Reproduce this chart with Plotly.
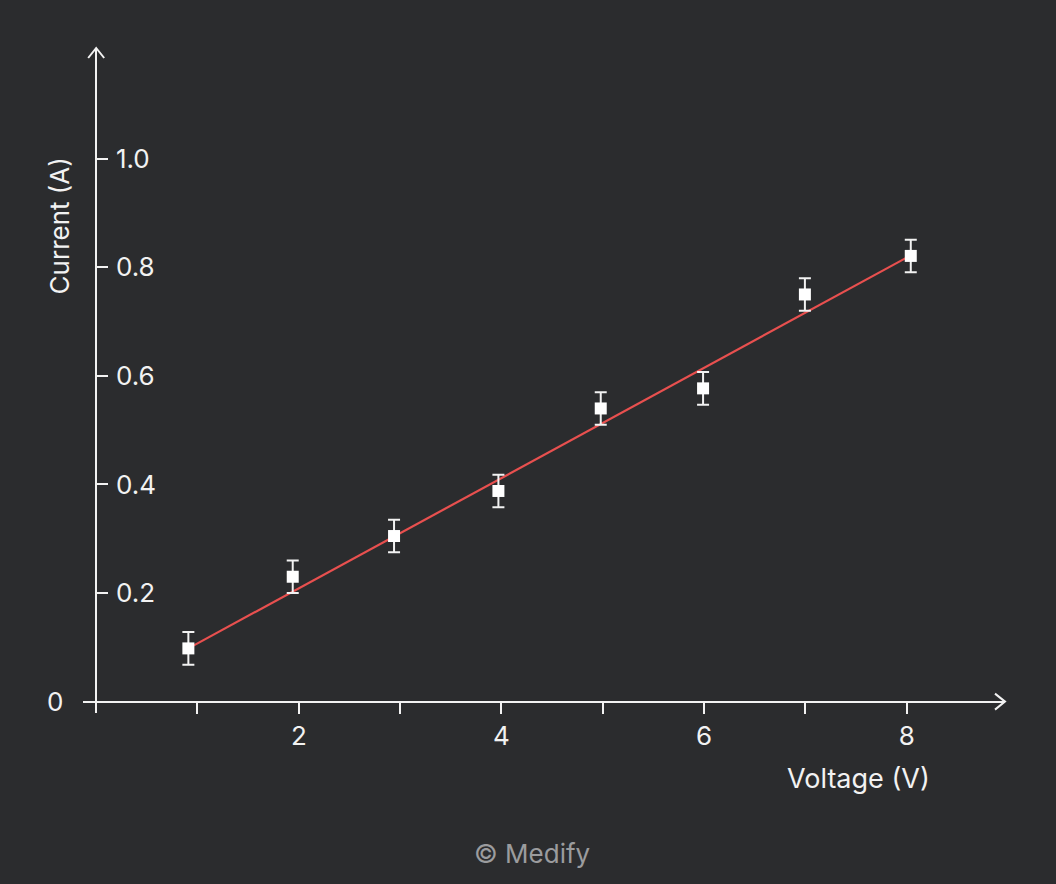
import plotly.graph_objects as go

# ---- data ----
voltage = [0.91, 1.94, 2.94, 3.97, 4.98, 5.99, 6.995, 8.04]
current = [0.098, 0.230, 0.305, 0.388, 0.540, 0.577, 0.750, 0.821]
current_err = [0.03, 0.03, 0.03, 0.03, 0.03, 0.03, 0.03, 0.03]

fit_x = [0.91, 8.04]
fit_y = [0.098, 0.822]

x_tickvals = [1, 2, 3, 4, 5, 6, 7, 8]
x_ticktext = ["", "2", "", "4", "", "6", "", "8"]
y_tickvals = [0.2, 0.4, 0.6, 0.8, 1.0]
y_ticktext = ["0.2", "0.4", "0.6", "0.8", "1.0"]

BG = "#2b2c2e"
FG = "#f2f2f2"
RED = "#e8504f"
FONT = "Inter"
FS = 26

X_RANGE = [-0.13, 8.97]
Y_RANGE = [-0.021, 1.204]

fig = go.Figure()

fig.add_trace(go.Scatter(
    x=fit_x, y=fit_y, mode="lines",
    line=dict(color=RED, width=2.2),
    hoverinfo="skip", showlegend=False,
))

fig.add_trace(go.Scatter(
    x=voltage, y=current, mode="markers",
    marker=dict(symbol="square", size=12, color="#ffffff", line=dict(width=0)),
    error_y=dict(type="data", array=current_err, visible=True,
                 color=FG, thickness=2, width=6),
    showlegend=False,
))

xpos = (0 - Y_RANGE[0]) / (Y_RANGE[1] - Y_RANGE[0])
ypos = (0 - X_RANGE[0]) / (X_RANGE[1] - X_RANGE[0])

fig.update_layout(
    width=1056, height=884,
    margin=dict(l=83, r=51, t=48, b=171),
    paper_bgcolor=BG, plot_bgcolor=BG,
    font=dict(family=FONT, size=FS, color=FG),
    xaxis=dict(
        range=X_RANGE, showgrid=False, zeroline=False,
        showline=True, linecolor=FG, linewidth=2,
        anchor="free", position=xpos,
        ticks="outside", ticklen=11, tickwidth=2, tickcolor=FG,
        tickvals=x_tickvals, ticktext=x_ticktext,
        tickfont=dict(family=FONT, size=FS, color=FG),
    ),
    yaxis=dict(
        range=Y_RANGE, showgrid=False, zeroline=False,
        showline=True, linecolor=FG, linewidth=2,
        anchor="free", position=ypos,
        ticks="inside", ticklen=11, tickwidth=2, tickcolor=FG,
        ticklabelposition="inside", ticklabelstandoff=10,
        tickvals=y_tickvals, ticktext=y_ticktext,
        tickfont=dict(family=FONT, size=FS, color=FG),
    ),
)

# arrow heads (chevrons) at axis ends, in paper coords (no clipping)
fig.add_shape(type="path", xref="paper", yref="paper",
              xsizemode="pixel", ysizemode="pixel",
              xanchor=1.0, yanchor=xpos,
              path="M -10,-8 L 0,0 L -10,8",
              line=dict(color=FG, width=2))
fig.add_shape(type="path", xref="paper", yref="paper",
              xsizemode="pixel", ysizemode="pixel",
              xanchor=ypos, yanchor=1.0,
              path="M -8,-10 L 0,0 L 8,-10",
              line=dict(color=FG, width=2))

# origin label
fig.add_annotation(text="0", xref="paper", yref="paper",
                   x=ypos, y=xpos, xanchor="right", yanchor="middle",
                   xshift=-31, showarrow=False,
                   font=dict(family=FONT, size=FS, color=FG))
# axis titles
fig.add_annotation(text="Current (A)", xref="paper", yref="paper",
                   x=ypos, y=0.732, xanchor="center", yanchor="middle",
                   xshift=-37, textangle=-90, showarrow=False,
                   font=dict(family=FONT, size=FS, color=FG))
fig.add_annotation(text="Voltage (V)", xref="x", yref="paper",
                   x=8.245, y=xpos, xanchor="right", yanchor="middle",
                   yshift=-77, showarrow=False,
                   font=dict(family=FONT, size=27, color=FG))
# credit
fig.add_annotation(text="© Medify", xref="paper", yref="paper",
                   x=0.5, y=0, xanchor="center", yanchor="middle",
                   xshift=532 - (83 + 922 / 2), yshift=-(853 - 713),
                   showarrow=False,
                   font=dict(family=FONT, size=FS, color="#9b9c9e"))

fig.write_html("out.html", config={"displayModeBar": False},
               post_script="document.body.style.margin='0';")
